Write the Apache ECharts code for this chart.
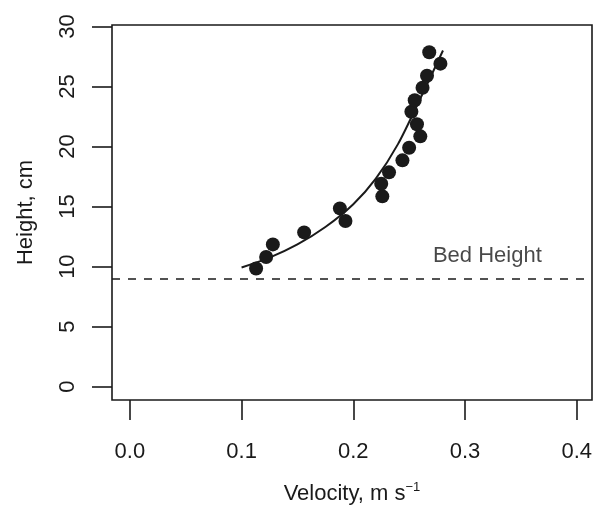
<!DOCTYPE html>
<html>
<head>
<meta charset="utf-8">
<script src="https://cdn.jsdelivr.net/npm/echarts@6/dist/echarts.min.js"></script>
<style>
  html, body { margin: 0; padding: 0; background: #fff; }
  #main { width: 594px; height: 506px; }
</style>
</head>
<body>
<div id="main"></div>
<script>
// measured points (velocity m/s, height cm)
const velocity = [0.113, 0.122, 0.128, 0.156, 0.188, 0.193, 0.226, 0.225, 0.232, 0.244,
                  0.250, 0.260, 0.257, 0.252, 0.255, 0.262, 0.266, 0.278, 0.268];
const height = [9.85, 10.8, 11.85, 12.85, 14.85, 13.8, 15.85, 16.9, 17.85, 18.85,
                19.9, 20.85, 21.85, 22.9, 23.85, 24.9, 25.9, 26.9, 27.85];

// fitted curve
const fitVelocity = [0.100, 0.125, 0.150, 0.175, 0.200, 0.220, 0.240, 0.260, 0.2803];
const fitHeight = [9.93, 10.75, 11.85, 13.3, 15.2, 17.3, 20.2, 24.0, 28.0];

const bedHeight = 9;
const bedLabel = 'Bed Height';
const bedLabelPos = [0.320, 10.9];

const xTicks = [0, 0.1, 0.2, 0.3, 0.4];
const yTicks = [0, 5, 10, 15, 20, 25, 30];

const ink = '#1a1a1a';
const font = 'Liberation Sans, Arial, sans-serif';
const fs = 22;

const chart = echarts.init(document.getElementById('main'));

const option = {
  animation: false,
  backgroundColor: '#fff',
  grid: {
    left: 112, right: 2, top: 25, bottom: 106,
    outerBoundsMode: 'none',
    containLabel: false,
    show: true, borderColor: ink, borderWidth: 1.6, backgroundColor: 'transparent'
  },
  xAxis: {
    type: 'value',
    min: -0.016, max: 0.4137,
    axisLine: {show: false, onZero: false},
    splitLine: {show: false},
    axisTick: {
      show: true, inside: false, length: 20,
      customValues: xTicks,
      lineStyle: {color: ink, width: 1.6}
    },
    axisLabel: {
      customValues: xTicks,
      margin: 41,
      color: ink, fontFamily: font, fontSize: fs,
      formatter: v => v.toFixed(1)
    },
    name: '{a|Velocity, m s}{b|\u22121}',
    nameLocation: 'middle',
    nameGap: 81,
    nameTextStyle: {
      rich: {
        a: {fontFamily: font, fontSize: fs, color: ink, lineHeight: 26},
        b: {fontFamily: font, fontSize: 13, color: ink, verticalAlign: 'top', lineHeight: 14}
      }
    }
  },
  yAxis: {
    type: 'value',
    min: -1.106, max: 30.12,
    axisLine: {show: false, onZero: false},
    splitLine: {show: false},
    axisTick: {
      show: true, inside: false, length: 20,
      customValues: yTicks,
      lineStyle: {color: ink, width: 1.6}
    },
    axisLabel: {
      customValues: yTicks,
      rotate: 90,
      margin: 33,
      color: ink, fontFamily: font, fontSize: fs
    },
    name: 'Height, cm',
    nameLocation: 'middle',
    nameGap: 75,
    nameRotate: 90,
    nameTextStyle: {fontFamily: font, fontSize: fs, color: ink}
  },
  series: [
    {
      type: 'line',
      data: fitVelocity.map((v, i) => [v, fitHeight[i]]),
      smooth: 0.3,
      showSymbol: false,
      symbol: 'none',
      lineStyle: {color: ink, width: 2},
      z: 2,
      markLine: {
        silent: true,
        symbol: 'none',
        label: {show: false},
        lineStyle: {color: ink, width: 1.7, type: [8, 8]},
        data: [{yAxis: bedHeight}]
      }
    },
    {
      type: 'scatter',
      data: velocity.map((v, i) => [v, height[i]]),
      symbol: 'circle',
      symbolSize: 14,
      itemStyle: {color: ink, opacity: 1},
      z: 3
    },
    {
      type: 'scatter',
      data: [bedLabelPos],
      symbolSize: 0,
      silent: true,
      label: {
        show: true,
        position: 'inside',
        formatter: bedLabel,
        color: ink, fontFamily: font, fontSize: fs
      }
    }
  ]
};

chart.setOption(option);
</script>
</body>
</html>
